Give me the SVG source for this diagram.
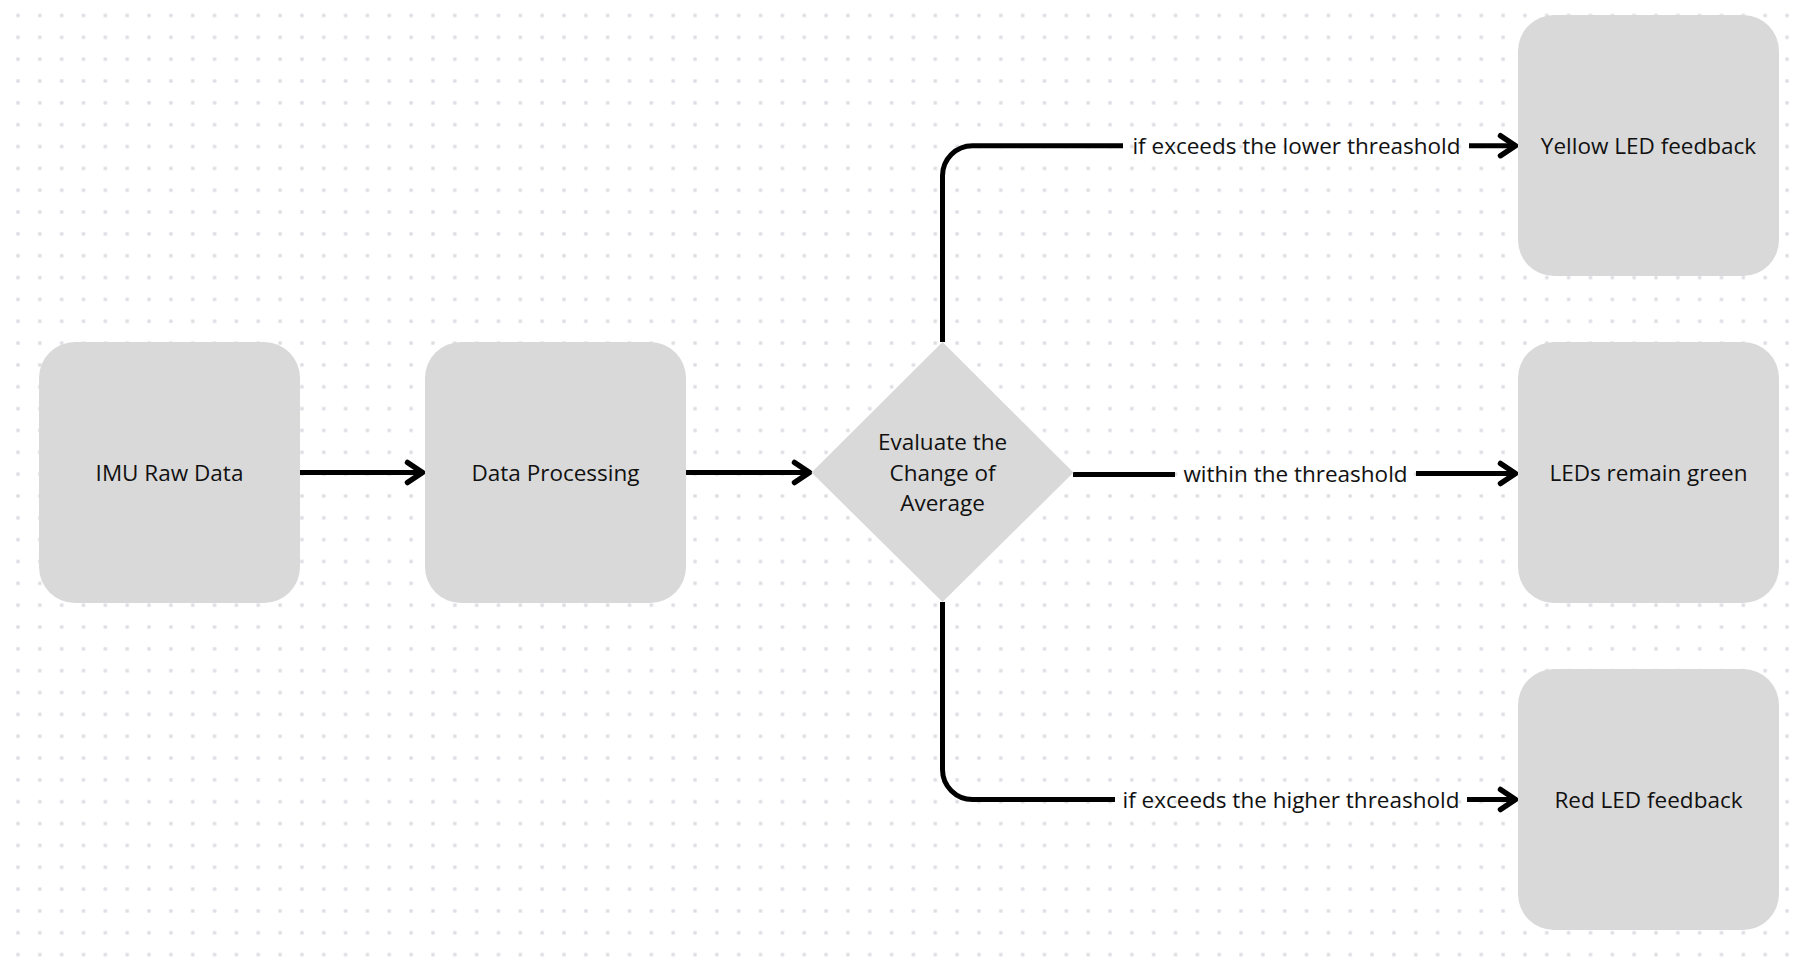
<svg xmlns="http://www.w3.org/2000/svg" width="1804" height="964" viewBox="0 0 1804 964">
  <defs>
    <pattern id="dots" x="7.08" y="4.58" width="21.84" height="21.84" patternUnits="userSpaceOnUse">
      <rect x="9.27" y="9.27" width="3.3" height="3.3" fill="#dcdce3"/>
    </pattern>
    <marker id="chev" viewBox="-19 -14 23 28" refX="0" refY="0" markerWidth="23" markerHeight="28" markerUnits="userSpaceOnUse" orient="auto">
      <path d="M-15,-10 L0,0 L-15,10" fill="none" stroke="#000" stroke-width="5.5" stroke-linecap="round" stroke-linejoin="round"/>
    </marker>
    <style>
      .box { fill: #d9d9d9; }
      .lbl { font-family: "Open Sans", "Noto Sans", "Liberation Sans", sans-serif; font-size: 22.5px; fill: #111; text-anchor: middle; }
      .ln { fill: none; stroke: #000; stroke-width: 5; stroke-linecap: butt; stroke-linejoin: round; }
      .arr { marker-end: url(#chev); }
    </style>
  </defs>
  <rect width="1804" height="964" fill="#ffffff"/>
  <rect width="1804" height="964" fill="url(#dots)"/>

  <g id="connectors">
    <path class="ln arr" d="M300,472.5 H422.5"/>
    <path class="ln arr" d="M686,472.5 H809.5"/>
    <path class="ln" d="M942.5,342 V175.7 A30,30 0 0 1 972.5,145.7 H1123"/>
    <path class="ln arr" d="M1469,145.7 H1515.5"/>
    <path class="ln" d="M1073,474.5 H1175"/>
    <path class="ln arr" d="M1416,473.5 H1515.5"/>
    <path class="ln" d="M942.5,602 V769.5 A30,30 0 0 0 972.5,799.5 H1115"/>
    <path class="ln arr" d="M1467,799.5 H1515.5"/>
    <text class="lbl" x="1296.5" y="153.5">if exceeds the lower threashold</text>
    <text class="lbl" x="1295.5" y="481.5">within the threashold</text>
    <text class="lbl" x="1291" y="807.5">if exceeds the higher threashold</text>
  </g>

  <g id="imu-raw-data">
    <rect class="box" x="39" y="342" width="261" height="261" rx="36" ry="36"/>
    <text class="lbl" x="169.5" y="481">IMU Raw Data</text>
  </g>
  <g id="data-processing">
    <rect class="box" x="425" y="342" width="261" height="261" rx="36" ry="36"/>
    <text class="lbl" x="555.5" y="481">Data Processing</text>
  </g>
  <g id="evaluate">
    <polygon class="box" points="942.5,342 1073.5,472.5 942.5,602 811.5,472.5"/>
    <text class="lbl" x="942.5" y="450">Evaluate the</text>
    <text class="lbl" x="942.5" y="480.5">Change of</text>
    <text class="lbl" x="942.5" y="511">Average</text>
  </g>
  <g id="yellow-led">
    <rect class="box" x="1518" y="15" width="261" height="261" rx="36" ry="36"/>
    <text class="lbl" x="1648.5" y="154">Yellow LED feedback</text>
  </g>
  <g id="leds-green">
    <rect class="box" x="1518" y="342" width="261" height="261" rx="36" ry="36"/>
    <text class="lbl" x="1648.5" y="481">LEDs remain green</text>
  </g>
  <g id="red-led">
    <rect class="box" x="1518" y="669" width="261" height="261" rx="36" ry="36"/>
    <text class="lbl" x="1648.5" y="808">Red LED feedback</text>
  </g>
</svg>
